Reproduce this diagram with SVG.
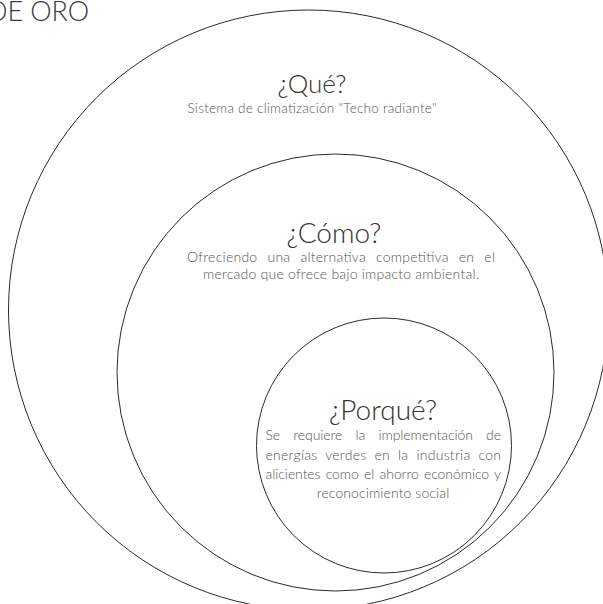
<svg xmlns="http://www.w3.org/2000/svg" width="603" height="604" viewBox="0 0 603 604">
<style>
.ring{fill:none;stroke:#2a2a2a;stroke-width:1}
.title{font-family:Lato,"Open Sans","Liberation Sans",sans-serif;font-weight:300;font-size:27px;fill:#3a3a3a}
.head{font-family:Lato,"Open Sans","Liberation Sans",sans-serif;font-weight:300;font-size:28px;fill:#333;text-anchor:middle}
.body{font-family:Lato,"Open Sans","Liberation Sans",sans-serif;font-weight:300;font-size:14px;fill:#555}
.mid{text-anchor:middle}
</style>
<rect width="603" height="604" fill="#fff"/>
<text class="title" x="-13" y="20.5" textLength="102" lengthAdjust="spacing">DE ORO</text>
<g id="que">
<circle class="ring" cx="308.5" cy="310" r="300"/>
<text class="head" x="312" y="93" style="font-size:26px">¿Qué?</text>
<text class="body mid" x="312" y="112.5" style="font-size:13.5px" textLength="249" lengthAdjust="spacing">Sistema de climatización "Techo radiante"</text>
</g>
<g id="como">
<circle class="ring" cx="335.5" cy="372.5" r="218.5"/>
<text class="head" x="334" y="243">¿Cómo?</text>
<text class="body" x="187" y="262" word-spacing="6" textLength="308" lengthAdjust="spacing">Ofreciendo una alternativa competitiva en el</text>
<text class="body mid" x="341" y="279" textLength="276" lengthAdjust="spacing">mercado que ofrece bajo impacto ambiental.</text>
</g>
<g id="porque">
<circle class="ring" cx="384" cy="445.5" r="127.5"/>
<text class="head" x="383" y="420">¿Porqué?</text>
<text class="body" x="265.5" y="440" word-spacing="9.5" textLength="235.5" lengthAdjust="spacing">Se requiere la implementación de</text>
<text class="body" x="265.5" y="459.5" word-spacing="4" textLength="235.5" lengthAdjust="spacing">energías verdes en la industria con</text>
<text class="body" x="265.5" y="479" word-spacing="1.5" textLength="235.5" lengthAdjust="spacing">alicientes como el ahorro económico y</text>
<text class="body mid" x="383" y="497.5" textLength="132.5" lengthAdjust="spacing">reconocimiento social</text>
</g>
</svg>
